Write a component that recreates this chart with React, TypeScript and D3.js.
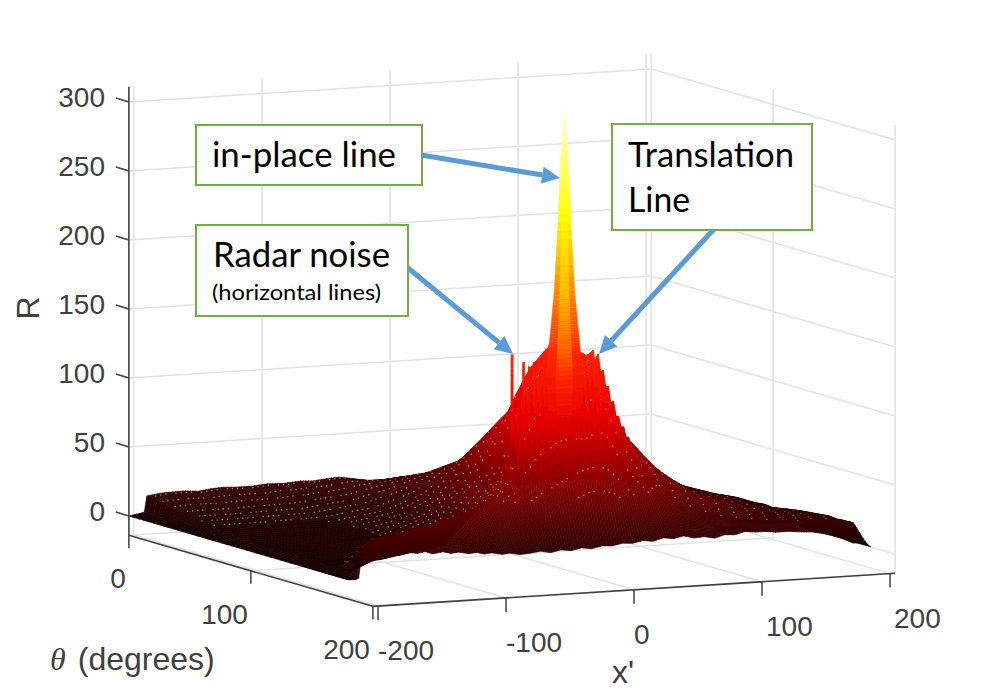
import React, { useMemo } from "react";
import * as d3 from "d3";

// ---- axis values
const zTicks = [0, 50, 100, 150, 200, 250, 300];
const thetaTicks = [0, 100, 200];
const xTicks = [-200, -100, 0, 100, 200];
const xGrid = [-200, -100, 0, 100, 200];
const X_MIN = -204, X_MAX = 204, Z_FLOOR = -14, Z_TOP = 311;

// ---- surface profiles R(x'), one list per theta row
const xKnots = [-204, -198, -190, -150, -100, -60, -30, -10, 0, 10, 30, 60, 100, 130, 150, 190, 200, 204];

const backX = [-204, -198, -192, -190, -180, -170, -160, -150, -140, -130, -120, -108, -96, -84, -70, -60, -50, -40, -30, -20, -10, 0, 10, 30, 60, 100, 150, 190, 200, 204];
const backZ = [0, 1, 2, 13.7, 15, 15.5, 15.6, 14.8, 16, 16.5, 16, 16, 17, 16.5, 17.5, 17, 18, 18.5, 17, 15, 14.5, 15, 16, 15, 14, 12, 10, 10, 12, 0];

const row30 = [0, 0, 8, 8, 9, 13, 19, 24, 27, 24, 18, 13, 15, 15, 13, 8, 6, 0];
const row57 = [0, 0, 4, 4, 5, 10, 20, 34, 43, 36, 28, 30, 30, 25, 18, 8, 7, 0];
const row74 = [0, 0, 3, 3, 5, 12, 26, 48, 62, 54, 55, 50, 45, 32, 20, 10, 9, 0];
const row90 = [0, 0, 2, 3, 5, 15, 34, 62, 81, 78, 70, 62, 52, 28, 21, 10, 9, 0];
const row98 = [0, 0, 2, 3, 5, 18, 40, 72, 90, 88, 75, 66, 54, 28, 22, 10, 10, 0];
const row104 = [0, 0, 2, 3, 6, 20, 45, 84, 104, 100, 80, 66, 50, 25, 22, 11, 9, 0];
const row115 = [0, 0, 2, 3, 6, 24, 52, 100, 125, 118, 90, 70, 44, 26, 23, 12, 11, 0];
const row129 = [0, 0, 2, 3, 7, 30, 62, 115, 143, 135, 100, 78, 34, 26, 22, 14, 13, 0];
const row140 = [0, 0, 2, 3, 8, 40, 70, 125, 150, 130, 92, 62, 35, 26, 20, 14, 14, 0];
const row150 = [0, 0, 2, 4, 12, 50, 85, 128, 148, 125, 85, 56, 34, 24, 20, 15, 15, 0];
const row170 = [0, 0, 4, 20, 24, 38, 52, 62, 64, 60, 42, 26, 18, 18, 18, 18, 15, 0];

// translation line: the ridge along x', with its comb of teeth
const ridgeX = [-204, -198, -190, -180, -168, -146, -122, -98, -82, -66, -60, -58, -56, -54, -52, -50, -48, -46, -44, -42, -40, -38, -36, -34, -32, -30, -28, -26, -24, -22, -20, -18, -16, -14, -12, -10, -8, -6, -4, -2, 0, 2, 4, 6, 8, 10, 12, 14, 16, 18, 20, 22, 24, 26, 28, 30, 32, 34, 36, 38, 40, 42, 44, 46, 48, 50, 54, 58, 62, 74, 90, 108, 128, 150, 170, 190, 200, 204];
const ridgeZ = [0, 0, 2, 12, 22, 25, 30, 35, 42, 50, 58, 52, 85, 100, 120, 108, 128, 118, 140, 128, 143, 130, 146, 132, 150, 136, 155, 138, 155, 136, 152, 132, 150, 128, 146, 126, 142, 124, 143, 128, 146, 136, 147, 149, 140, 146, 133, 134, 122, 122, 110, 111, 100, 100, 92, 92, 84, 84, 76, 76, 68, 68, 62, 61, 56, 55, 50, 47, 45, 34, 27, 22, 19, 17, 15, 14, 14, 0];

// front edge of the surface
const frontX = [-204, -198, -196, -194, -182, -176, -170, -164, -156, -150, -144, -138, -130, -124, -118, -110, -104, -98, -92, -84, -78, -70, -62, -54, -46, -38, -30, -22, -14, -6, 2, 10, 18, 26, 34, 42, 50, 58, 66, 74, 82, 90, 98, 106, 114, 122, 130, 140, 150, 158, 166, 178, 190, 200, 204];
const frontZ = [0, 0, 1, 16, 18, 16, 17, 15.5, 17, 16, 17, 15, 16, 14.5, 15, 13.5, 14, 12.5, 13, 11.5, 12, 10.5, 11, 12, 10.5, 12, 11, 12.5, 11.5, 13, 12.5, 14, 13.5, 15, 14, 16, 15, 16.5, 14.5, 15, 13.5, 15.5, 15, 17, 16, 16, 15, 15, 14, 13.5, 12, 9, 3.6, 3, 0];

// in-place line: the spike, height against half width in x'
const spireX = -21;
const spireTheta = 165;
const spireZ = [92, 105, 130, 155, 170, 195, 245, 290, 325, 334];
const spireHalf = [5, 13, 15, 12, 10.5, 8, 5, 3, 0.8, 0.2];

// radar noise spikes
const noiseTheta = 120;
const noiseX = [-19, -10];
const noiseTop = [137, 131];
const noiseBase = [75, 85];

// ---- view
const xPx = d3.scaleLinear().domain([-200, 200]).range([-256, 256]);
const tPx = d3.scaleLinear().domain([0, 200]).range([0, 244]);
const xRise = d3.scaleLinear().domain([-200, 200]).range([16.2, -16.2]);
const tRise = d3.scaleLinear().domain([0, 200]).range([0, 71]);
const zRise = d3.scaleLinear().domain([0, 300]).range([0, -414]);
const sx = (x: number, t: number) => 390 + xPx(x) + tPx(t);
const sy = (x: number, t: number, z: number) => 499.5 + xRise(x) + tRise(t) + zRise(z);
const pt = (x: number, t: number, z: number) => `${sx(x, t).toFixed(2)},${sy(x, t, z).toFixed(2)}`;

const hot = d3.scaleLinear<string>().domain([0, 100, 150, 250, 334]).range(["#160000", "#e60000", "#ff2800", "#ffff00", "#ffffff"]).clamp(true);

const lin = (d: number[], r: number[]) => d3.scaleLinear().domain(d).range(r);
const rows: [number, (x: number) => number][] = [
  [0, lin(backX, backZ)],
  [30, lin(xKnots, row30)],
  [57, lin(xKnots, row57)],
  [74, lin(xKnots, row74)],
  [90, lin(xKnots, row90)],
  [98, lin(xKnots, row98)],
  [104, lin(xKnots, row104)],
  [115, lin(xKnots, row115)],
  [129, lin(xKnots, row129)],
  [140, lin(xKnots, row140)],
  [150, lin(xKnots, row150)],
  [160, lin(ridgeX, ridgeZ)],
  [170, lin(xKnots, row170)],
  [180, lin(frontX, frontZ)],
];
const rowT = rows.map((r) => r[0]);
function surfaceZ(x: number, t: number) {
  const k = Math.min(rows.length - 1, Math.max(1, d3.bisectRight(rowT, t)));
  const a = rows[k - 1], b = rows[k];
  return d3.scaleLinear().domain([a[0], b[0]]).range([a[1](x), b[1](x)])(t);
}

const meshX = d3.range(X_MIN, X_MAX + 1, 2);
const meshT = [...d3.range(0, 140, 4), ...d3.range(140, 160, 2), ...d3.range(160, 180, 1), 180];
const coreGlow = d3.scaleLinear().domain([92, 150, 190, 250]).range([0, 26, 26, 0]).clamp(true);

function Surface() {
  const items = useMemo(() => {
    const out: React.ReactNode[] = [];
    const zz = meshT.map((t) => meshX.map((x) => surfaceZ(x, t)));
    let spireDone = false;
    for (let j = 0; j < meshT.length - 1; j++) {
      const t0 = meshT[j], t1 = meshT[j + 1];
      if (!spireDone && t0 >= spireTheta) {
        spireDone = true;
        for (let s = 0; s < spireZ.length - 1; s++) {
          const zs = lin([0, 1], [spireZ[s], spireZ[s + 1]]);
          const ws = lin([0, 1], [spireHalf[s], spireHalf[s + 1]]);
          const parts = 8;
          for (let p = 0; p < parts; p++) {
            const a = p / parts, b = (p + 1) / parts;
            const band = (f: number, c: string, k: string) => {
              const d = `M${pt(spireX - f * ws(a), spireTheta, zs(a))}L${pt(spireX + f * ws(a), spireTheta, zs(a))}L${pt(spireX + f * ws(b), spireTheta, zs(b))}L${pt(spireX - f * ws(b), spireTheta, zs(b))}Z`;
              out.push(<path key={k} d={d} fill={c} stroke={c} strokeWidth={0.4} />);
            };
            const mid = (zs(a) + zs(b)) / 2;
            band(1, hot(mid), `s${s}-${p}`);
            band(0.45, hot(mid + coreGlow(mid)), `c${s}-${p}`);
          }
        }
      }
      const dots: React.ReactNode[] = [];
      for (let i = meshX.length - 2; i >= 0; i--) {
        const x0 = meshX[i], x1 = meshX[i + 1];
        const a = zz[j][i], b = zz[j][i + 1], c = zz[j + 1][i + 1], e = zz[j + 1][i];
        const mean = (a + b + c + e) / 4;
        const col = hot(mean);
        out.push(
          <path key={`q${j}-${i}`} d={`M${pt(x0, t0, a)}L${pt(x1, t0, b)}L${pt(x1, t1, c)}L${pt(x0, t1, e)}Z`} fill={col} stroke={col} strokeWidth={0.6} />
        );
        const face = t0 >= 160;
        const speck = face ? mean > 44 : mean > 5;
        const lattice = face
          ? j % 3 === 0 && (i + (j % 2)) % 2 === 0
          : j % 2 === 0 && (i + (j % 4 === 0 ? 1 : 0)) % 2 === 0;
        const thin = x0 > 40 ? (i * 7 + j * 11) % 3 === 0 : (i * 31 + j * 17) % 5 !== 0;
        if (speck && lattice && thin && i > 7 && i < meshX.length - 5) {
          dots.push(
            <circle key={`d${j}-${i}`} cx={sx((x0 + x1) / 2, (t0 + t1) / 2)} cy={sy((x0 + x1) / 2, (t0 + t1) / 2, mean)} r={0.8} fill="#e8c8c8" opacity={0.6} />
          );
        }
      }
      out.push(...dots);
    }
    noiseX.forEach((x, n) => {
      d3.range(noiseBase[n], noiseTop[n], 4).forEach((z) => {
        const z1 = Math.min(z + 4, noiseTop[n]);
        const c = hot((z + z1) / 2 + 15);
        out.push(
          <path key={`n${n}-${z}`} d={`M${pt(x - 1, noiseTheta, z)}L${pt(x + 1, noiseTheta, z)}L${pt(x + 1, noiseTheta, z1)}L${pt(x - 1, noiseTheta, z1)}Z`} fill={c} stroke={c} strokeWidth={0.3} />
        );
      });
    });
    return out;
  }, []);
  return <g filter="url(#soft)">{items}</g>;
}

function Grid() {
  const g = "#e2e2e2";
  const L = (k: string, x1: number, y1: number, x2: number, y2: number) => (
    <line key={k} x1={x1} y1={y1} x2={x2} y2={y2} stroke={g} strokeWidth={1.5} />
  );
  const out: React.ReactNode[] = [];
  zTicks.forEach((z) => {
    out.push(L(`zb${z}`, sx(X_MIN, 0), sy(X_MIN, 0, z), sx(X_MAX, 0), sy(X_MAX, 0, z)));
    out.push(L(`zr${z}`, sx(X_MAX, 0), sy(X_MAX, 0, z), sx(X_MAX, 200), sy(X_MAX, 200, z)));
  });
  xGrid.forEach((x) => {
    out.push(L(`xb${x}`, sx(x, 0), sy(x, 0, Z_FLOOR), sx(x, 0), sy(x, 0, Z_TOP)));
    out.push(L(`xf${x}`, sx(x, 0), sy(x, 0, Z_FLOOR), sx(x, 200), sy(x, 200, Z_FLOOR)));
  });
  thetaTicks.forEach((t) => {
    out.push(L(`tr${t}`, sx(X_MAX, t), sy(X_MAX, t, Z_FLOOR), sx(X_MAX, t), sy(X_MAX, t, Z_TOP)));
    out.push(L(`tf${t}`, sx(X_MIN, t), sy(X_MIN, t, Z_FLOOR), sx(X_MAX, t), sy(X_MAX, t, Z_FLOOR)));
  });
  return <g filter="url(#soft)">{out}</g>;
}

function Axes() {
  const ink = "#404040";
  const font = { fontFamily: "'Liberation Sans', Arial, sans-serif", fontSize: 28, fill: ink };
  const title = { ...font, fontSize: 32 };
  return (
    <g>
      <line x1={sx(X_MIN, 0)} y1={sy(X_MIN, 0, Z_TOP)} x2={sx(X_MIN, 0)} y2={sy(X_MIN, 0, Z_FLOOR)} stroke={ink} strokeWidth={1.6} />
      <line x1={sx(X_MIN, 0)} y1={sy(X_MIN, 0, Z_FLOOR)} x2={sx(X_MIN, 200)} y2={sy(X_MIN, 200, Z_FLOOR)} stroke={ink} strokeWidth={1.6} />
      <line x1={sx(X_MIN, 200)} y1={sy(X_MIN, 200, Z_FLOOR)} x2={sx(X_MAX, 200)} y2={sy(X_MAX, 200, Z_FLOOR)} stroke={ink} strokeWidth={1.6} />
      {zTicks.map((z) => {
        const px = sx(X_MIN, 0), py = sy(X_MIN, 0, z);
        return (
          <g key={z}>
            <line x1={px} y1={py} x2={px - 13} y2={py - 4} stroke={ink} strokeWidth={1.5} />
            <text x={105} y={py + 5} textAnchor="end" {...font}>{z}</text>
          </g>
        );
      })}
      {thetaTicks.map((t) => {
        const px = sx(X_MIN, t), py = sy(X_MIN, t, Z_FLOOR);
        return (
          <g key={t}>
            <line x1={px} y1={py} x2={px} y2={py + 13} stroke={ink} strokeWidth={1.5} />
            <text x={px - 3} y={py + 53} textAnchor="end" {...font}>{t}</text>
          </g>
        );
      })}
      {xTicks.map((x) => {
        const px = sx(x, 200), py = sy(x, 200, Z_FLOOR);
        return (
          <g key={x}>
            <line x1={px} y1={py} x2={px} y2={py + 14} stroke={ink} strokeWidth={1.5} />
            <text x={px + (x > 50 ? 4 : 0)} y={py + 54} textAnchor="start" {...font}>{x}</text>
          </g>
        );
      })}
      <text transform="translate(39,308) rotate(-90)" textAnchor="middle" {...title}>R</text>
      <text x={50} y={670} {...title}>
        <tspan fontFamily="'Liberation Serif', serif" fontStyle="italic">θ</tspan>
        <tspan dx={12}>(degrees)</tspan>
      </text>
      <text x={612} y={683} {...title}>x'</text>
    </g>
  );
}

const annotationFont = "Lato, 'Open Sans', sans-serif";

function Box({ x, y, w, h }: { x: number; y: number; w: number; h: number }) {
  return <rect x={x} y={y} width={w} height={h} fill="#ffffff" stroke="#70AD47" strokeWidth={2} />;
}

function Arrow({ from, to }: { from: [number, number]; to: [number, number] }) {
  const ang = Math.atan2(to[1] - from[1], to[0] - from[0]);
  const len = 18, half = 8.5;
  const bx = to[0] - len * Math.cos(ang), by = to[1] - len * Math.sin(ang);
  const nx = -Math.sin(ang) * half, ny = Math.cos(ang) * half;
  return (
    <g>
      <line x1={from[0]} y1={from[1]} x2={bx} y2={by} stroke="#5B9BD5" strokeWidth={5} />
      <polygon points={`${to[0]},${to[1]} ${bx + nx},${by + ny} ${bx - nx},${by - ny}`} fill="#5B9BD5" />
    </g>
  );
}

function Notes() {
  const big = { fontFamily: annotationFont, fontSize: 34, fill: "#000" };
  return (
    <g>
      <Arrow from={[421, 155]} to={[560, 178]} />
      <Arrow from={[408, 268]} to={[513, 354]} />
      <Arrow from={[715, 228]} to={[599, 354]} />
      <Box x={196} y={125} w={226} h={60} />
      <Box x={196} y={225} w={212} h={91} />
      <Box x={612} y={124} w={200} h={106} />
      <text x={212} y={167} textLength={184} lengthAdjust="spacingAndGlyphs" {...big}>in-place line</text>
      <text x={213} y={267} textLength={177} lengthAdjust="spacingAndGlyphs" {...big}>Radar noise</text>
      <text x={212} y={300} textLength={169} lengthAdjust="spacingAndGlyphs" fontFamily={annotationFont} fontSize={21} fill="#000">(horizontal lines)</text>
      <text x={628} y={167} textLength={166} lengthAdjust="spacingAndGlyphs" {...big}>Translation</text>
      <text x={628} y={212} textLength={62} lengthAdjust="spacingAndGlyphs" {...big}>Line</text>
    </g>
  );
}

export default function App() {
  return (
    <svg width={989} height={691} viewBox="0 0 989 691" style={{ position: "absolute", left: 0, top: 0, background: "#fff" }}>
      <defs>
        <filter id="soft" x="-5%" y="-5%" width="110%" height="110%">
          <feGaussianBlur stdDeviation="0.5" />
        </filter>
      </defs>
      <Grid />
      <Surface />
      <Axes />
      <Notes />
    </svg>
  );
}
